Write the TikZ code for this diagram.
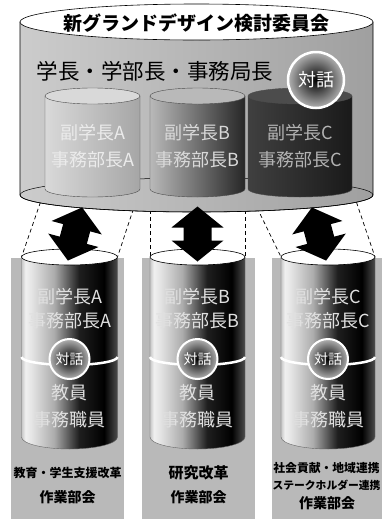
\documentclass[tikz,border=0pt]{standalone}
\usepackage{fontspec}
\newfontfamily\jp{Noto Sans CJK JP}
\newcommand\jfs[1]{\fontsize{#1}{#1}\selectfont}
\pgfdeclarehorizontalshading{lowcyl}{100bp}{color(0bp)=(gray!45); color(25bp)=(gray!45); color(27bp)=(gray!12); color(30bp)=(gray!20); color(42bp)=(gray!65); color(55bp)=(black!88); color(68bp)=(black); color(75bp)=(black!70); color(100bp)=(black!70)}
\newcommand\cylbody[6]{\path[#6] ({#1-#4},#2) -- ({#1-#4},#3) arc[start angle=180,end angle=0,x radius=#4,y radius=#5] -- ({#1+#4},#2) -- cycle;}
\tikzset{
  cylline/.style={draw=black, line width=0.6pt},
  dashline/.style={draw=black, line width=0.7pt, dash pattern=on 4pt off 3pt},
  lbl/.style={inner sep=0pt, font=\jp},
  panel/.style={fill=gray!55, draw=none},
  talkbig/.style={circle, inner sep=0pt, minimum size=56pt, shading=radial, inner color=black, outer color=gray!60, draw=white, line width=2.5pt, text=white, font=\jp\jfs{18pt}},
  talksmall/.style={circle, inner sep=0pt, minimum size=40pt, shading=radial, inner color=black, outer color=gray!60, draw=white, line width=2pt, text=white, font=\jp\jfs{14pt}},
  dblarrow/.pic={\fill[black] (27.5,0) -- (6.5,26) -- (6.5,14) -- (-6.5,14) -- (-6.5,26) -- (-27.5,0) -- (-6.5,-26) -- (-6.5,-14) -- (6.5,-14) -- (6.5,-26) -- cycle;},
}
\begin{document}
\begin{tikzpicture}[x=1pt,y=-1pt]
\useasboundingbox (0,0) rectangle (382,520);
\clip (0,0) rectangle (382,520);
% connector end points
\coordinate (uA1) at (45,189);  \coordinate (uA2) at (140,189);
\coordinate (uB1) at (150,189); \coordinate (uB2) at (245,189);
\coordinate (uC1) at (248,189); \coordinate (uC2) at (352,189);
\coordinate (lA1) at (21.5,257);  \coordinate (lA2) at (117.5,257);
\coordinate (lB1) at (150,257);   \coordinate (lB2) at (245,257);
\coordinate (lC1) at (281,257);   \coordinate (lC2) at (375,257);
\draw[dashline] (uA1) -- (lA1); \draw[dashline] (uA2) -- (lA2);
\draw[dashline] (uB1) -- (lB1); \draw[dashline] (uB2) -- (lB2);
\draw[dashline] (uC1) -- (lC1); \draw[dashline] (uC2) -- (lC2);
% big cylinder
\cylbody{196.5}{22}{195}{176.5}{17}{left color=gray!40, right color=gray!75, cylline}
\draw[line width=0.5pt] (196.5,195) ellipse[x radius=176.5, y radius=17];
% small cylinders
\cylbody{92.5}{96}{189}{47.5}{8}{left color=gray!30, right color=gray!70, draw=black!70, line width=0.4pt}
\fill[gray!30, draw=black!70, line width=0.4pt] (92.5,96) ellipse[x radius=47.5, y radius=8];
\cylbody{197.5}{96}{189}{47.5}{8}{left color=gray!55, right color=black!85, draw=black!70, line width=0.4pt}
\fill[gray!55, draw=black!70, line width=0.4pt] (197.5,96) ellipse[x radius=47.5, y radius=8];
\cylbody{300}{96}{189}{52}{8}{left color=black!75, right color=black!90, draw=black!70, line width=0.4pt}
\fill[black!70, draw=black!70, line width=0.4pt] (300,96) ellipse[x radius=52, y radius=8];
\node[lbl, text=white!92!black, font=\jp\jfs{18pt}] (sA1) at (92.5,133) {副学長A};
\node[lbl, text=white!92!black, font=\jp\jfs{18pt}] (sA2) at (92.5,160) {事務部長A};
\node[lbl, text=white!85!black, font=\jp\jfs{18pt}] (sB1) at (197.5,133) {副学長B};
\node[lbl, text=white!85!black, font=\jp\jfs{18pt}] (sB2) at (197.5,160) {事務部長B};
\node[lbl, text=white!70!black, font=\jp\jfs{18pt}] (sC1) at (300,133) {副学長C};
\node[lbl, text=white!70!black, font=\jp\jfs{18pt}] (sC2) at (300,160) {事務部長C};
% big top ellipse and texts
\fill[white, cylline] (196.5,22) ellipse[x radius=176.5, y radius=18];
\node[lbl, font=\jp\bfseries\jfs{19pt}] (title) at (196.5,23) {新グランドデザイン検討委員会};
\node[lbl, font=\jp\jfs{21.5pt}] (heads) at (155,71) {学長・学部長・事務局長};
\node[talkbig] (talk0) at (316,80) {対話};
% lower panels
\fill[panel] (11,258) rectangle (124,519);
\fill[panel] (142,258) rectangle (255,519);
\fill[panel] (272,258) rectangle (386,519);
% lower cylinders
\foreach \cx/\rx/\nm/\L in {69.5/48/A/A, 197.5/47.5/B/B, 328/47/C/C}{
  \cylbody{\cx}{257}{437}{\rx}{12}{shading=lowcyl, draw=black!60, line width=0.4pt}
  \draw[white, line width=2.5pt] ({\cx-\rx},357) arc[start angle=180,end angle=0,x radius=\rx,y radius=8];
  \fill[white, cylline] (\cx,257) ellipse[x radius=\rx, y radius=8];
  \node[lbl, text=white!88!black, font=\jp\jfs{18pt}] (v\nm) at (\cx,297) {副学長\L};
  \node[lbl, text=white!88!black, font=\jp\jfs{18pt}] (d\nm) at (\cx,321) {事務部長\L};
  \node[talksmall] (t\nm) at (\cx,359) {対話};
  \node[lbl, text=white!88!black, font=\jp\jfs{18pt}] (k\nm) at (\cx,393) {教員};
  \node[lbl, text=white!88!black, font=\jp\jfs{18pt}] (j\nm) at (\cx,420) {事務職員};
}
% bottom labels
\node[lbl, font=\jp\bfseries\jfs{12pt}] (gA1) at (67.5,473) {教育・学生支援改革};
\node[lbl, font=\jp\bfseries\jfs{14pt}] (gA2) at (67.5,497) {作業部会};
\node[lbl, font=\jp\bfseries\jfs{15pt}] (gB1) at (198.5,473) {研究改革};
\node[lbl, font=\jp\bfseries\jfs{14pt}] (gB2) at (198.5,497) {作業部会};
\node[lbl, font=\jp\bfseries\jfs{11.8pt}] (gC1) at (326.5,468) {社会貢献・地域連携};
\node[lbl, font=\jp\bfseries\jfs{10.8pt}] (gC2) at (326.5,485) {ステークホルダー連携};
\node[lbl, font=\jp\bfseries\jfs{14pt}] (gC3) at (327,503) {作業部会};
% double arrows
\coordinate (arA) at (75,234);
\coordinate (arB) at (197.5,234);
\coordinate (arC) at (319,234);
\pic[rotate=75] at (arA) {dblarrow};
\pic[rotate=90] at (arB) {dblarrow};
\pic[rotate=105] at (arC) {dblarrow};
\end{tikzpicture}
\end{document}
